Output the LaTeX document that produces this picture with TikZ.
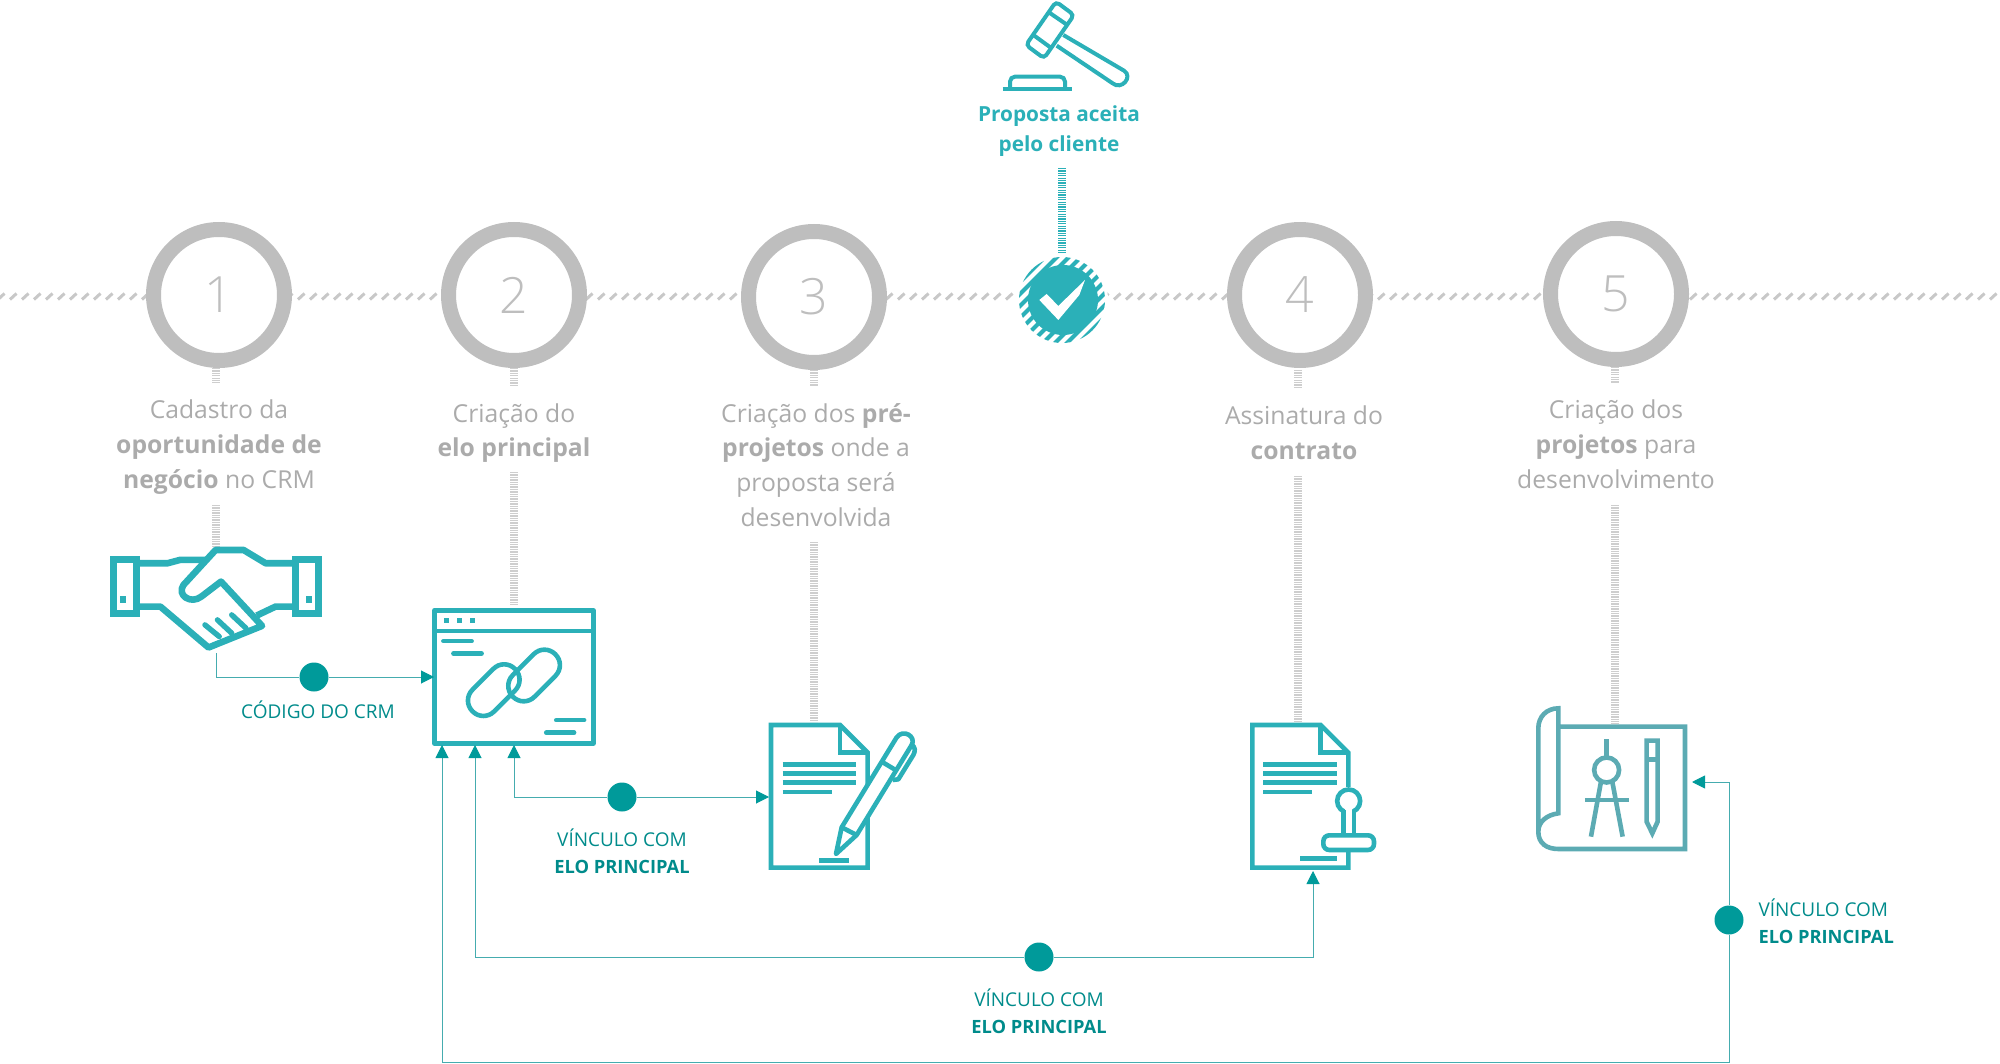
\documentclass[tikz,border=0pt]{standalone}
\usepackage{fontspec}
\setmainfont{Open Sans}
\newfontfamily\leve{Open Sans Light}
\usetikzlibrary{arrows.meta}
\definecolor{turquesa}{HTML}{2BB0B8}
\definecolor{petroleo}{HTML}{009A9A}
\definecolor{fio}{HTML}{45ACAF}
\definecolor{planta}{HTML}{5CABB3}
\definecolor{anel}{HTML}{BEBEBE}
\definecolor{texto}{HTML}{ABABAB}
\newcommand{\elofrase}{VÍNCULO COM\\{\fontsize{18.3}{27}\selectfont\bfseries ELO PRINCIPAL}}
\tikzset{
  ring/.style={circle,draw=anel,line width=15pt,fill=white,minimum size=131pt,inner sep=0pt,text=anel,font=\fontsize{50}{50}\leve},
  etapa/.style={align=center,text=texto,font=\fontsize{24.7}{34.8}\selectfont},
  rotulo/.style={align=center,text=petroleo!90!black,font=\fontsize{19}{27}\selectfont},
  marco/.style={circle,fill=petroleo,minimum size=29pt,inner sep=0pt},
  fio/.style={draw=fio,line width=1pt},
  seta/.style={fio,-{Triangle[length=13pt,width=13pt,color=petroleo]}},
  listra/.style={line width=8pt,draw=#1,dash pattern=on 1.3pt off 1.1pt},
  hachura/.style={draw=anel!85,line width=3pt},
  icone/.style={draw=turquesa,line width=4.6pt,fill=none,line join=miter},
  traco/.style={draw=turquesa,line width=4.6pt}
}
\begin{document}
\begin{tikzpicture}[x=1pt,y=-1pt]
    \useasboundingbox (0,0) rectangle (2000,1064);

    % Linha do tempo
    \foreach \x in {-2,10,...,2000} \draw[hachura] (\x,299.5) -- ++(6.5,-6);

    % Listras
    \draw[listra=anel!75] (216,368) -- (216,383);
    \draw[listra=anel!75] (216,505) -- (216,548);
    \draw[listra=anel!75] (514,368) -- (514,385);
    \draw[listra=anel!75] (514,472) -- (514,606);
    \draw[listra=anel!75] (814,370) -- (814,386);
    \draw[listra=anel!75] (814,542) -- (814,722);
    \draw[listra=anel!75] (1298,370) -- (1298,389);
    \draw[listra=anel!75] (1298,476) -- (1298,722);
    \draw[listra=anel!75] (1615,367) -- (1615,383);
    \draw[listra=anel!75] (1615,505) -- (1615,724);
    \draw[listra=turquesa] (1062,168) -- (1062,255);

    % Etapas
    \node[ring] (p1) at (219,295) {1};
    \node[ring] (p2) at (514,295) {2};
    \node[ring] (p3) at (814,297) {3};
    \node[ring] (p4) at (1300,295) {4};
    \node[ring] (p5) at (1616,294) {5};

    % Aceite
    \fill[white] (1062,300) circle (46);
    \begin{scope}
        \clip (1062,300) circle (43);
        \foreach \d in {-72,-60,...,72}
            \draw[turquesa,line width=4pt] (1062+\d-50,350) -- (1062+\d+50,250);
    \end{scope}
    \node[circle,fill=turquesa,minimum size=70pt,inner sep=0pt] (aceite) at (1063,300) {};
    \begin{scope}[shift={(950,0)},x=.3333pt,y=-.3333pt]
        \fill[white] (268,900) -- (290,882) -- (325,918) -- (405,840) -- (388,885) -- (325,960) -- cycle;
    \end{scope}

    % Textos
    \node[etapa] (t1) at (219,447) {Cadastro da\\\textbf{oportunidade de}\\\textbf{negócio} no CRM};
    \node[etapa] (t2) at (514,433) {Criação do\\\textbf{elo principal}};
    \node[etapa] (t3) at (816,465) {Criação dos \textbf{pré-}\\\textbf{projetos} onde a\\proposta será\\desenvolvida};
    \node[etapa] (t4) at (1304,433) {Assinatura do\\\textbf{contrato}};
    \node[etapa] (t5) at (1616,444) {Criação dos\\\textbf{projetos} para\\desenvolvimento};
    \node[align=center,text=turquesa,font=\fontsize{20.8}{30}\selectfont\bfseries] (t6) at (1059,131) {Proposta aceita\\pelo cliente};

    % Martelo
    \begin{scope}[shift={(950,0)},x=.3333pt,y=-.3333pt]
        \draw[icone,line width=4pt,rounded corners=4pt] (318,5) -- (372,45) -- (282,175) -- (228,135) -- cycle;
        \draw[icone,line width=4pt] (298,38) -- (352,75);
        \draw[icone,line width=4pt] (250,105) -- (305,145);
        \draw[icone,line width=4pt] (340,105) -- (522,212) .. controls (550,230) and (515,272) .. (488,250) -- (320,137);
        \draw[icone,line width=4pt,rounded corners=5pt] (180,262) -- (180,230) -- (345,230) -- (345,262);
        \draw[icone,line width=4pt] (158,267) -- (366,267);
    \end{scope}

    % Aperto de mao
    \begin{scope}[shift={(80,500)},x=.357pt,y=-.333pt]
        \draw[icone,line width=6.6pt] (94,178) rectangle (158,340);
        \draw[icone,line width=6.6pt] (604,178) rectangle (668,340);
        \fill[turquesa] (112,288) rectangle (130,308);
        \fill[turquesa] (632,288) rectangle (650,308);
        \draw[icone,line width=6.6pt] (167,190) -- (245,190) -- (280,180) -- (352,180);
        \draw[icone,line width=6.6pt,line join=round] (595,190) -- (520,190) -- (458,150) -- (380,150) -- (290,255) .. controls (270,285) and (310,315) .. (340,290) -- (395,245) -- (510,378) -- (360,443) -- (225,320) -- (167,320);
        \draw[icone,line width=6.6pt] (595,320) -- (548,320) -- (495,347);
        \draw[traco,line width=5.4pt,line cap=round] (350,375) -- (390,410);
        \draw[traco,line width=5.4pt,line cap=round] (385,360) -- (425,400);
        \draw[traco,line width=5.4pt,line cap=round] (425,345) -- (465,385);
    \end{scope}

    % Elo principal
    \begin{scope}[shift={(80,500)},x=.357pt,y=-.333pt]
        \draw[icone,line join=round] (993,331) rectangle (1438,731);
        \draw[icone] (993,393) -- (1438,393);
        \foreach \x in {1028,1064,1100} \fill[turquesa] (\x-7,354) rectangle (\x+7,370);
        \draw[traco,line cap=round] (1018,424) -- (1097,424);
        \draw[traco,line cap=round] (1046,461) -- (1125,461);
        \draw[traco,line cap=round] (1334,661) -- (1412,661);
        \draw[traco,line cap=round] (1306,699) -- (1384,699);
        \draw[icone,rounded corners=15pt,rotate around={45:(1159,571)}] (1075,525) rectangle (1243,617);
        \draw[icone,rounded corners=15pt,rotate around={45:(1272,527)}] (1188,481) rectangle (1356,573);
    \end{scope}

    % Pre-projeto
    \begin{scope}[shift={(740,700)},x=.3333pt,y=-.3333pt]
        \draw[icone] (93,75) -- (300,75) -- (383,158) -- (383,503) -- (93,503) -- cycle;
        \draw[icone] (300,75) -- (300,158) -- (383,158);
        \foreach \y in {193,221,248} \draw[traco] (128,\y) -- (348,\y);
        \draw[traco] (128,276) -- (275,276);
        \draw[traco] (238,482) -- (328,482);
        \draw[icone,fill=white,line join=round] (305,382) -- (470,112) .. controls (490,85) and (530,110) .. (515,135) -- (350,405) -- (288,462) -- cycle;
        \draw[icone] (305,382) -- (350,405);
        \draw[icone] (425,185) -- (470,212);
        \draw[icone,line join=round] (510,132) .. controls (530,140) and (525,155) .. (520,165) -- (475,238) -- (458,240);
    \end{scope}

    % Contrato
    \begin{scope}[shift={(1230,700)},x=.3333pt,y=-.3333pt]
        \draw[icone] (67,75) -- (272,75) -- (355,158) -- (355,503) -- (67,503) -- cycle;
        \draw[icone] (272,75) -- (272,158) -- (355,158);
        \foreach \y in {193,221,248} \draw[traco] (100,\y) -- (322,\y);
        \draw[traco] (100,276) -- (245,276);
        \draw[traco] (210,476) -- (322,476);
        \fill[white] (310,260) rectangle (420,450);
        \draw[icone] (340,330) -- (340,405) (372,330) -- (372,405);
        \draw[icone,fill=white] (356,303) circle (11.5pt);
        \fill[white] (346,322) rectangle (366,345);
        \draw[icone] (340,330) -- (340,345) (372,330) -- (372,345);
        \draw[icone,rounded corners=6pt,fill=white] (280,450) -- (280,406) -- (432,406) -- (432,450) -- cycle;
    \end{scope}

    % Projeto
    \begin{scope}[shift={(1230,700)},x=.3333pt,y=-.3333pt]
        \draw[icone,draw=planta] (985,80) -- (1365,80) -- (1365,447) -- (985,447) .. controls (950,447) and (925,430) .. (925,395) -- (925,85) .. controls (925,50) and (950,25) .. (985,25) -- (985,340) .. controls (950,345) and (925,365) .. (925,395);
        \draw[icone,draw=planta] (1130,118) -- (1130,170);
        \draw[icone,draw=planta] (1130,210) circle (12.5pt);
        \draw[icone,draw=planta] (1113,245) -- (1083,410) (1147,245) -- (1178,410);
        \draw[icone,draw=planta] (1065,300) -- (1197,300);
        \draw[icone,draw=planta] (1250,122) -- (1283,122) -- (1283,365) -- (1267,400) -- (1250,365) -- cycle;
        \draw[icone,draw=planta] (1250,178) -- (1283,178);
    \end{scope}

    % Pontos de chegada
    \coordinate (maoBase) at (216,653);
    \coordinate (eloEsq) at (434,677);
    \coordinate (eloA) at (442,745);
    \coordinate (eloB) at (475,745);
    \coordinate (eloC) at (514,745);
    \coordinate (preEsq) at (769,797);
    \coordinate (contBase) at (1313,871);
    \coordinate (projDir) at (1692,782);

    % Vinculos
    \node[marco] (m1) at (314,677) {};
    \node[marco] (m2) at (622,797) {};
    \node[marco] (m3) at (1039,957) {};
    \node[marco] (m4) at (1729,920) {};
    \coordinate (c4) at (442,1062);
    \coordinate (c5) at (1729,1062);

    \draw[seta] (m3) -| (eloB);
    \draw[fio] (maoBase) |- (m1);
    \draw[seta] (m1) -- (eloEsq);
    \draw[seta] (m2) -| (eloC);
    \draw[seta] (m2) -- (preEsq);
    \draw[seta] (m3) -| (contBase);
    \draw[seta] (m4) |- (projDir);
    \draw[fio] (m4) -- (c5) -- (c4);
    \draw[seta] (c4) -- (eloA);

    % Rotulos
    \node[rotulo] (r1) at (318,710) {CÓDIGO DO CRM};
    \node[rotulo] (r2) at (622,851) {\elofrase};
    \node[rotulo] (r3) at (1039,1011) {\elofrase};
    \node[rotulo,align=left,anchor=west] (r4) at (1755,921) {\elofrase};
\end{tikzpicture}
\end{document}
